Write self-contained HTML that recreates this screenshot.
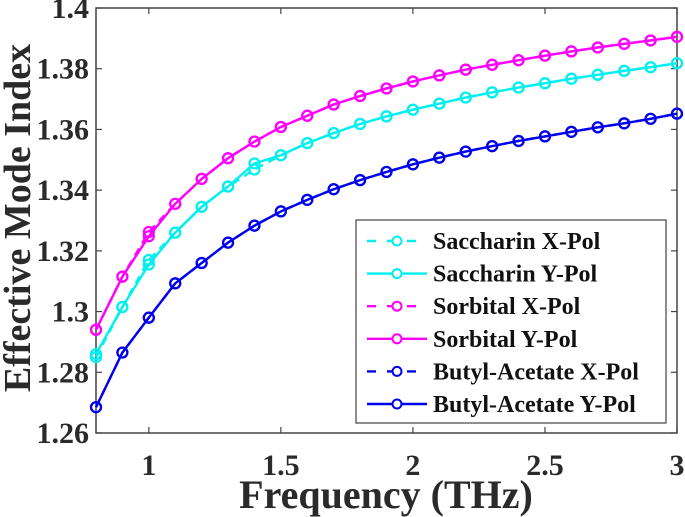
<!DOCTYPE html>
<html><head><meta charset="utf-8"><style>
body{margin:0;background:#fff;}
svg{display:block;font-family:"Liberation Serif",serif;font-weight:bold;}
</style></head><body>
<svg id="chart" width="685" height="517">
<rect x="96" y="8" width="581" height="425" fill="#fff" stroke="#444" stroke-width="1.5"/>
<g id="ticks"></g>
<g id="series"></g>
<text x="386" y="508" font-size="40" text-anchor="middle" fill="#2a2a2a">Frequency (THz)</text>
<text transform="translate(30,218) rotate(-90)" font-size="38" text-anchor="middle" fill="#2a2a2a">Effective Mode Index</text>
<g id="legend"></g>
</svg>
<script>
const freq=[0.8,0.9,1.0,1.1,1.2,1.3,1.4,1.5,1.6,1.7,1.8,1.9,2.0,2.1,2.2,2.3,2.4,2.5,2.6,2.7,2.8,2.9,3.0];
const saccharinX=[1.2850,1.3015,1.3170,1.3260,1.3345,1.3412,1.3468,1.3515,1.3555,1.3588,1.3618,1.3643,1.3665,1.3685,1.3705,1.3722,1.3738,1.3752,1.3767,1.3780,1.3793,1.3805,1.3818];
const saccharinY=[1.2860,1.3015,1.3155,1.3260,1.3345,1.3412,1.3488,1.3515,1.3555,1.3588,1.3618,1.3643,1.3665,1.3685,1.3705,1.3722,1.3738,1.3752,1.3767,1.3780,1.3793,1.3805,1.3818];
const sorbitalX=[1.2940,1.3115,1.3262,1.3355,1.3437,1.3505,1.3560,1.3608,1.3645,1.3682,1.3710,1.3735,1.3758,1.3778,1.3797,1.3813,1.3828,1.3843,1.3857,1.3870,1.3882,1.3893,1.3905];
const sorbitalY=[1.2940,1.3115,1.3248,1.3355,1.3437,1.3505,1.3560,1.3608,1.3645,1.3682,1.3710,1.3735,1.3758,1.3778,1.3797,1.3813,1.3828,1.3843,1.3857,1.3870,1.3882,1.3893,1.3905];
const butylX=[1.2685,1.2865,1.2980,1.3093,1.3160,1.3227,1.3283,1.3330,1.3368,1.3403,1.3433,1.3460,1.3485,1.3507,1.3527,1.3545,1.3562,1.3577,1.3592,1.3607,1.3620,1.3635,1.3652];
const butylY=[1.2685,1.2865,1.2980,1.3093,1.3160,1.3227,1.3283,1.3330,1.3368,1.3403,1.3433,1.3460,1.3485,1.3507,1.3527,1.3545,1.3562,1.3577,1.3592,1.3607,1.3620,1.3635,1.3652];
const xTicks=[1,1.5,2,2.5,3];
const xTickLabels=["1","1.5","2","2.5","3"];
const yTicks=[1.26,1.28,1.3,1.32,1.34,1.36,1.38,1.4];
const yTickLabels=["1.26","1.28","1.3","1.32","1.34","1.36","1.38","1.4"];
const seriesNames=["Saccharin X-Pol","Saccharin Y-Pol","Sorbital X-Pol","Sorbital Y-Pol","Butyl-Acetate X-Pol","Butyl-Acetate Y-Pol"];

const NS="http://www.w3.org/2000/svg";
const X0=96,X1=677,Y0=433,Y1=8;
function sx(v){return X0+(v-0.8)/(3-0.8)*(X1-X0);}
function sy(v){return Y0-(v-1.26)/(1.4-1.26)*(Y0-Y1);}
function mk(tag,attrs,parent){const e=document.createElementNS(NS,tag);for(const k in attrs)e.setAttribute(k,attrs[k]);parent.appendChild(e);return e;}

const tg=document.getElementById('ticks');
xTicks.forEach((t,i)=>{
  const x=sx(t);
  const l=mk('line',{x1:x,x2:x,y1:Y0,y2:Y0-6,stroke:'#444','stroke-width':1.2},tg);
  
  
  const l2=mk('line',{x1:x,x2:x,y1:Y1,y2:Y1+6,stroke:'#444','stroke-width':1.2},tg);
  
  
  const tx=mk('text',{x:x,y:Y0+42,'font-size':30,'text-anchor':'middle',fill:'#2a2a2a'},tg);
  tx.textContent=xTickLabels[i];
  
  
});
yTicks.forEach((t,i)=>{
  const y=sy(t);
  const l=mk('line',{x1:X0,x2:X0+6,y1:y,y2:y,stroke:'#444','stroke-width':1.2},tg);
  
  
  const l2=mk('line',{x1:X1,x2:X1-6,y1:y,y2:y,stroke:'#444','stroke-width':1.2},tg);
  
  
  const tx=mk('text',{x:X0-7,y:y+10,'font-size':30,'text-anchor':'end',fill:'#2a2a2a'},tg);
  tx.textContent=yTickLabels[i];
  
  
});

const defs=[
 {d:saccharinX,c:'#00f0f0',dash:'8,6'},
 {d:saccharinY,c:'#00f0f0',dash:''},
 {d:sorbitalX,c:'#ff00ff',dash:'8,6'},
 {d:sorbitalY,c:'#ff00ff',dash:''},
 {d:butylX,c:'#0000ee',dash:'8,6'},
 {d:butylY,c:'#0000ee',dash:''}
];
const sg=document.getElementById('series');
defs.forEach((s,k)=>{
  const g=mk('g',{},sg);
  
  
  const pts=freq.map((f,i)=>sx(f)+','+sy(s.d[i])).join(' ');
  const pl=mk('polyline',{points:pts,fill:'none',stroke:s.c,'stroke-width':2.4,'stroke-dasharray':s.dash},g);
  
  
  freq.forEach((f,i)=>{
    const c=mk('circle',{cx:sx(f),cy:sy(s.d[i]),r:5,fill:'none',stroke:s.c,'stroke-width':2.2},g);
    
    
  });
});

const lg=document.getElementById('legend');
mk('rect',{x:356,y:220,width:310,height:203,fill:'#fff',stroke:'#444','stroke-width':1.2},lg);
seriesNames.forEach((n,k)=>{
  const y=241+k*32.6;
  const s=defs[k];
  const e=mk('g',{},lg);
  
  
  mk('line',{x1:367,x2:427,y1:y,y2:y,stroke:s.c,'stroke-width':2.4,'stroke-dasharray':s.dash?'9,11':''},e);
  mk('circle',{cx:397,cy:y,r:4.5,fill:'#fff',stroke:s.c,'stroke-width':2},e);
  const t=mk('text',{x:433,y:y+8,'font-size':24,fill:'#111'},e);
  t.textContent=n;
});
</script>
</body></html>
